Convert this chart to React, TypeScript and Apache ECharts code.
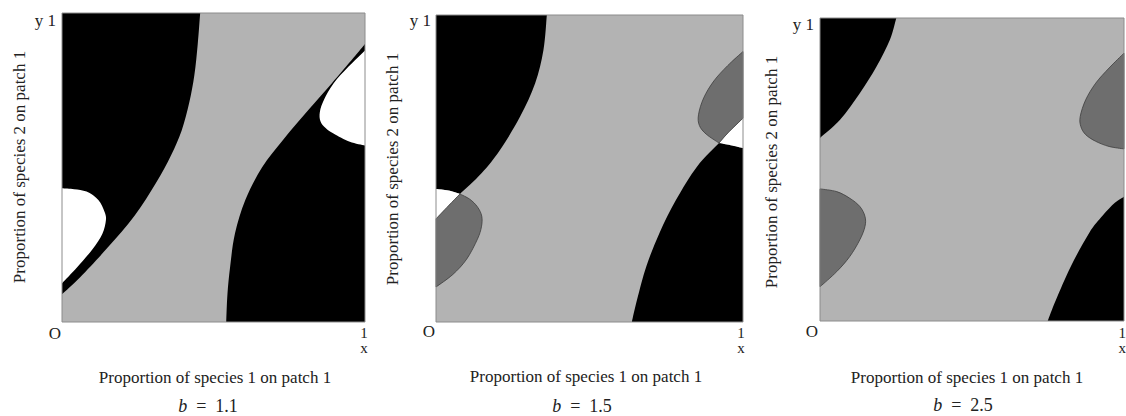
import React, { useEffect, useRef } from "react";
import * as echarts from "echarts";

// ---------- Data (unit square, x = species 1, y = species 2) ----------
const panelLabels = ["b = 1.1", "b = 1.5", "b = 2.5"];
const bValues = ["1.1", "1.5", "2.5"];
const xTitle = "Proportion of species 1 on patch 1";
const yTitle = "Proportion of species 2 on patch 1";

// Panel 1 (b = 1.1)
const p1UpperBlack = [[0.456, 1], [0.448, 0.9], [0.437, 0.8], [0.42, 0.71], [0.395, 0.62], [0.36, 0.54], [0.31, 0.45], [0.24, 0.345], [0.15, 0.24], [0.06, 0.145], [0, 0.09]];
const p1LeftWhite = [[0, 0.433], [0.04, 0.43], [0.081, 0.422], [0.12, 0.395], [0.14, 0.358], [0.145, 0.33], [0.133, 0.285], [0.1, 0.235], [0.05, 0.177], [0, 0.125]];
const p1LowerBlack = [[0.542, 0], [0.546, 0.09], [0.555, 0.18], [0.571, 0.287], [0.605, 0.395], [0.66, 0.5], [0.73, 0.59], [0.813, 0.686], [0.89, 0.772], [0.962, 0.855], [1, 0.9]];
const p1RightWhite = [[1, 0.879], [0.945, 0.826], [0.896, 0.772], [0.865, 0.72], [0.851, 0.68], [0.853, 0.65], [0.87, 0.628], [0.896, 0.61], [0.95, 0.583], [1, 0.571]];

// Panel 2 (b = 1.5)
const p2UpperBlack = [[0.361, 1], [0.35, 0.886], [0.323, 0.778], [0.274, 0.669], [0.209, 0.561], [0.149, 0.485], [0.078, 0.417]];
const p2LeftWhiteTop = [[0.078, 0.417], [0.04, 0.428], [0, 0.433]];
const p2LeftDarkTop = [[0, 0.336], [0.04, 0.378], [0.078, 0.417]];
const p2LeftDark = [[0.078, 0.417], [0.11, 0.4], [0.135, 0.375], [0.149, 0.345], [0.148, 0.31], [0.135, 0.27], [0.1, 0.205], [0.055, 0.155], [0, 0.114]];
const p2LowerBlack = [[0.638, 0], [0.655, 0.073], [0.685, 0.181], [0.728, 0.29], [0.782, 0.398], [0.85, 0.506], [0.922, 0.583]];
const p2RightWhiteBottom = [[0.922, 0.583], [0.96, 0.576], [1, 0.567]];
const p2RightDark = [[1, 0.881], [0.95, 0.835], [0.905, 0.785], [0.872, 0.73], [0.855, 0.675], [0.858, 0.64], [0.88, 0.612], [0.922, 0.583]];
const p2RightDarkBottom = [[0.922, 0.583], [0.951, 0.616], [1, 0.664]];

// Panel 3 (b = 2.5)
const p3UpperBlack = [[0.251, 1], [0.23, 0.928], [0.186, 0.84], [0.131, 0.752], [0.066, 0.664], [0, 0.604]];
const p3LowerBlack = [[0.749, 0], [0.776, 0.069], [0.825, 0.18], [0.885, 0.29], [0.93, 0.348], [0.97, 0.39], [1, 0.41]];
const p3LeftDark = [[0, 0.436], [0.055, 0.427], [0.098, 0.405], [0.131, 0.378], [0.148, 0.345], [0.148, 0.312], [0.131, 0.268], [0.098, 0.213], [0.055, 0.163], [0, 0.113]];
const p3RightDark = [[1, 0.884], [0.951, 0.835], [0.907, 0.785], [0.874, 0.73], [0.856, 0.675], [0.858, 0.642], [0.874, 0.615], [0.907, 0.593], [0.951, 0.576], [1, 0.568]];

const corners = { tl: [0, 1], tr: [1, 1], br: [1, 0], bl: [0, 0] };

// ---------- Styles ----------
const LIGHT = "#b3b3b3";
const BLACK = "#000000";
const WHITE = "#ffffff";
const DARK = "#6e6e6e";
const OUTLINE = "#3c3c3c";
const BORDER = "#8c8c8c";
const FONT = "'Liberation Serif', 'Times New Roman', serif";

type Pt = number[];
type Region = { legs: Pt[][]; fill: string; stroke?: string };

const panels: Region[][] = [
  [
    { legs: [[corners.bl], [corners.tl], [corners.tr], [corners.br]], fill: LIGHT },
    { legs: [[corners.tl], p1UpperBlack], fill: BLACK },
    { legs: [p1LeftWhite], fill: WHITE },
    { legs: [p1LowerBlack, [corners.br]], fill: BLACK },
    { legs: [p1RightWhite], fill: WHITE },
  ],
  [
    { legs: [[corners.bl], [corners.tl], [corners.tr], [corners.br]], fill: LIGHT },
    { legs: [[corners.tl], p2UpperBlack, p2LeftWhiteTop], fill: BLACK },
    { legs: [p2LeftWhiteTop, [[0, 0.336]]], fill: WHITE },
    { legs: [p2LeftDarkTop, p2LeftDark], fill: DARK, stroke: OUTLINE },
    { legs: [p2LowerBlack, p2RightWhiteBottom, [corners.br]], fill: BLACK },
    { legs: [p2RightWhiteBottom, [[1, 0.664]], p2RightDarkBottom.slice().reverse()], fill: WHITE },
    { legs: [p2RightDark, p2RightDarkBottom], fill: DARK, stroke: OUTLINE },
  ],
  [
    { legs: [[corners.bl], [corners.tl], [corners.tr], [corners.br]], fill: LIGHT },
    { legs: [[corners.tl], p3UpperBlack], fill: BLACK },
    { legs: [p3LowerBlack, [corners.br]], fill: BLACK },
    { legs: [p3LeftDark], fill: DARK, stroke: OUTLINE },
    { legs: [p3RightDark], fill: DARK, stroke: OUTLINE },
  ],
];

const grids = [
  { left: 62, top: 13, width: 303, height: 309 },
  { left: 436, top: 15, width: 307, height: 307 },
  { left: 820, top: 18, width: 304, height: 303 },
];

const textPos = [
  { y1: [56, 20], o: [55, 333], one: [364, 333], x: [364, 348], xt: [215, 377], bt: [208, 406], yt: [19, 167], edge: "center" },
  { y1: [431, 20], o: [429, 331], one: [741, 333], x: [741, 348], xt: [586, 376], bt: [582, 406], yt: [392, 169], edge: "center" },
  { y1: [814, 24], o: [812, 331], one: [1126, 333], x: [1126, 348], xt: [967, 377], bt: [963, 405], yt: [771, 172], edge: "right" },
];

function smoothSeg(pts: number[][]): string {
  let d = "";
  for (let i = 0; i < pts.length - 1; i++) {
    const p0 = pts[Math.max(0, i - 1)];
    const p1 = pts[i];
    const p2 = pts[i + 1];
    const p3 = pts[Math.min(pts.length - 1, i + 2)];
    const c1x = p1[0] + (p2[0] - p0[0]) / 6;
    const c1y = p1[1] + (p2[1] - p0[1]) / 6;
    const c2x = p2[0] - (p3[0] - p1[0]) / 6;
    const c2y = p2[1] - (p3[1] - p1[1]) / 6;
    d += `C${c1x},${c1y},${c2x},${c2y},${p2[0]},${p2[1]}`;
  }
  return d;
}

function buildPath(legs: Pt[][], api: any): string {
  let d = "";
  legs.forEach((leg, li) => {
    const pts = leg.map((p) => api.coord(p));
    d += (li === 0 ? "M" : "L") + pts[0][0] + "," + pts[0][1];
    if (pts.length === 2) d += "L" + pts[1][0] + "," + pts[1][1];
    else if (pts.length > 2) d += smoothSeg(pts);
  });
  return d + "Z";
}

export default function App() {
  const ref = useRef<HTMLDivElement>(null);
  useEffect(() => {
    if (!ref.current) return;
    const chart = echarts.init(ref.current, null, { renderer: "svg" });
    const series: any[] = [];
    panels.forEach((regions, pi) => {
      regions.forEach((r, ri) => {
        series.push({
          type: "custom",
          xAxisIndex: pi,
          yAxisIndex: pi,
          silent: true,
          z: 2 + ri * 0.01,
          data: r.legs.flat(),
          encode: { x: 0, y: 1 },
          renderItem: (params: any, api: any) => {
            if (params.dataIndex !== 0) return null;
            return {
              type: "path",
              shape: { pathData: buildPath(r.legs, api) },
              style: { fill: r.fill, stroke: r.stroke || null, lineWidth: r.stroke ? 0.8 : 0 },
            };
          },
        });
      });
      series.push({
        type: "custom",
        xAxisIndex: pi,
        yAxisIndex: pi,
        silent: true,
        z: 5,
        data: [corners.tl, corners.br],
        encode: { x: 0, y: 1 },
        renderItem: (params: any, api: any) => {
          if (params.dataIndex !== 0) return null;
          const a = api.coord(corners.tl);
          const b = api.coord(corners.br);
          return {
            type: "rect",
            shape: { x: a[0], y: a[1], width: b[0] - a[0], height: b[1] - a[1] },
            style: { fill: null, stroke: BORDER, lineWidth: 1 },
          };
        },
      });
    });

    const graphic: any[] = [];
    const base = { font: `17px ${FONT}`, fill: "#222" };
    const small = { font: `15px ${FONT}`, fill: "#222", lineHeight: 13 };
    textPos.forEach((t, pi) => {
      graphic.push({ type: "text", x: t.y1[0], y: t.y1[1], style: { ...base, text: "y 1", align: "right", verticalAlign: "middle" } });
      graphic.push({ type: "text", x: t.o[0], y: t.o[1], style: { ...base, text: "O", align: "center", verticalAlign: "middle" } });
      graphic.push({ type: "text", x: t.one[0], y: t.one[1], style: { ...small, text: "1", align: t.edge, verticalAlign: "middle" } });
      graphic.push({ type: "text", x: t.x[0], y: t.x[1], style: { ...small, text: "x", align: t.edge, verticalAlign: "middle" } });
      graphic.push({ type: "text", x: t.xt[0], y: t.xt[1], style: { ...base, text: xTitle, align: "center", verticalAlign: "middle" } });
      graphic.push({
        type: "text",
        x: t.yt[0],
        y: t.yt[1],
        rotation: Math.PI / 2,
        style: { ...base, text: yTitle, align: "center", verticalAlign: "middle" },
      });
      graphic.push({
        type: "text",
        x: t.bt[0],
        y: t.bt[1],
        style: {
          text: `{i|b}{n|\u2002=\u2002${bValues[pi]}}`,
          align: "center",
          verticalAlign: "middle",
          rich: {
            i: { font: `italic 18px ${FONT}`, fill: "#222" },
            n: { font: `18px ${FONT}`, fill: "#222" },
          },
        },
      });
    });

    chart.setOption({
      animation: false,
      backgroundColor: "#ffffff",
      grid: grids.map((g) => ({ ...g, show: false })),
      xAxis: grids.map((_, i) => ({ type: "value", gridIndex: i, min: 0, max: 1, show: false })),
      yAxis: grids.map((_, i) => ({ type: "value", gridIndex: i, min: 0, max: 1, show: false })),
      series,
      graphic,
    });
    return () => chart.dispose();
  }, []);
  return <div ref={ref} aria-label={panelLabels.join(", ")} style={{ position: "fixed", left: 0, top: 0, width: 1126, height: 416 }} />;
}
